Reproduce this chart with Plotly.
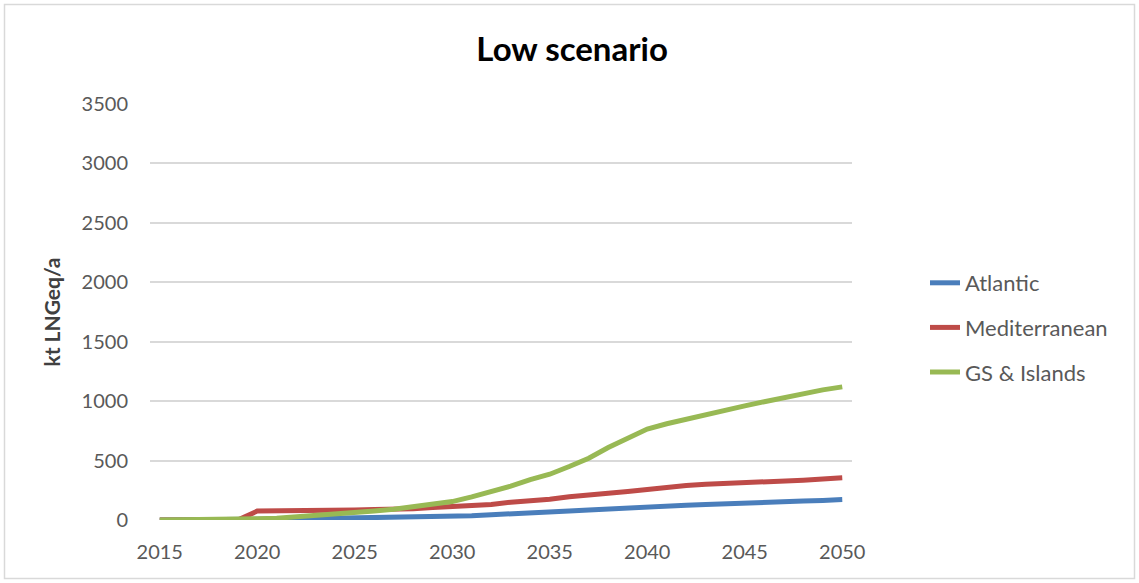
import plotly.graph_objects as go

years = list(range(2015, 2051))

atlantic = [0, 0, 0, 0, 0, 5, 8, 10, 12, 14, 15, 17, 18, 20, 22, 25, 35, 45, 50, 55,
            65, 75, 85, 95, 105, 110, 115, 125, 130, 138, 142, 150, 155, 160, 165, 172]
mediterranean = [0, 0, 0, 0, 0, 75, 75, 76, 77, 80, 85, 88, 90, 95, 105, 110, 120, 130, 150, 160,
                 175, 195, 205, 225, 240, 260, 270, 290, 300, 305, 310, 320, 325, 335, 345, 355]
gs_islands = [0, 0, 0, 5, 8, 10, 15, 25, 35, 45, 55, 75, 90, 110, 130, 155, 195, 235, 285, 340,
              385, 450, 520, 610, 690, 765, 810, 850, 890, 925, 960, 995, 1030, 1065, 1095, 1120]

series_names = ["Atlantic", "Mediterranean", "GS & Islands"]
series_values = [atlantic, mediterranean, gs_islands]
series_colors = ["#4A7EBB", "#BE4B48", "#98B954"]

x_ticks = [2015, 2020, 2025, 2030, 2035, 2040, 2045, 2050]
y_ticks = [0, 500, 1000, 1500, 2000, 2500, 3000, 3500]

FONT = "Lato, 'Open Sans', sans-serif"

fig = go.Figure()
for i, (name, vals, col) in enumerate(zip(series_names, series_values, series_colors)):
    fig.add_trace(go.Scatter(
        x=years, y=vals, name=name, mode="lines",
        line=dict(color=col, width=5),
        legendgroup=f"g{i}",
    ))

W, H = 1139, 583
ml, mr, mt, mb = 150, 287, 104, 63
pw, ph = W - ml - mr, H - mt - mb

def px_x(p):
    return (p - ml) / pw

def px_y(p):
    return (H - mb - p) / ph

fig.update_layout(
    width=W, height=H,
    margin=dict(l=ml, r=mr, t=mt, b=mb),
    paper_bgcolor="white", plot_bgcolor="white",
    font=dict(family=FONT, color="#595959", size=20),
    title=dict(text="<b>Low scenario</b>", x=0.5023, xanchor="center", y=1 - 49 / H, yanchor="middle",
               font=dict(family=FONT, size=33, color="#000000")),
    showlegend=True,
    legend=dict(x=px_x(925), y=px_y(262), xanchor="left", yanchor="top",
                font=dict(family=FONT, size=22, color="#595959"),
                tracegroupgap=13, bgcolor="rgba(0,0,0,0)"),
    xaxis=dict(range=[2014.5, 2050.5], tickvals=x_ticks, showgrid=False, zeroline=False,
               showline=False, ticks="", ticklabelstandoff=18,
               tickfont=dict(size=20, color="#595959")),
    yaxis=dict(range=[0, 3500], tickvals=y_ticks, showgrid=True, gridcolor="#D9D9D9", gridwidth=1.5,
               zeroline=False, showline=False, ticks="", ticklabelstandoff=21,
               tickfont=dict(size=20, color="#595959"),
               title=dict(text="<b>kt LNGeq/a</b>", standoff=15,
                          font=dict(family=FONT, size=21, color="#404040"))),
    shapes=[dict(type="rect", xref="paper", yref="paper",
                 x0=px_x(4.5), x1=px_x(1134.5), y0=px_y(578.5), y1=px_y(4.5),
                 line=dict(color="#D9D9D9", width=1.5), fillcolor="rgba(0,0,0,0)", layer="below")],
)

fig.write_html("out.html")
